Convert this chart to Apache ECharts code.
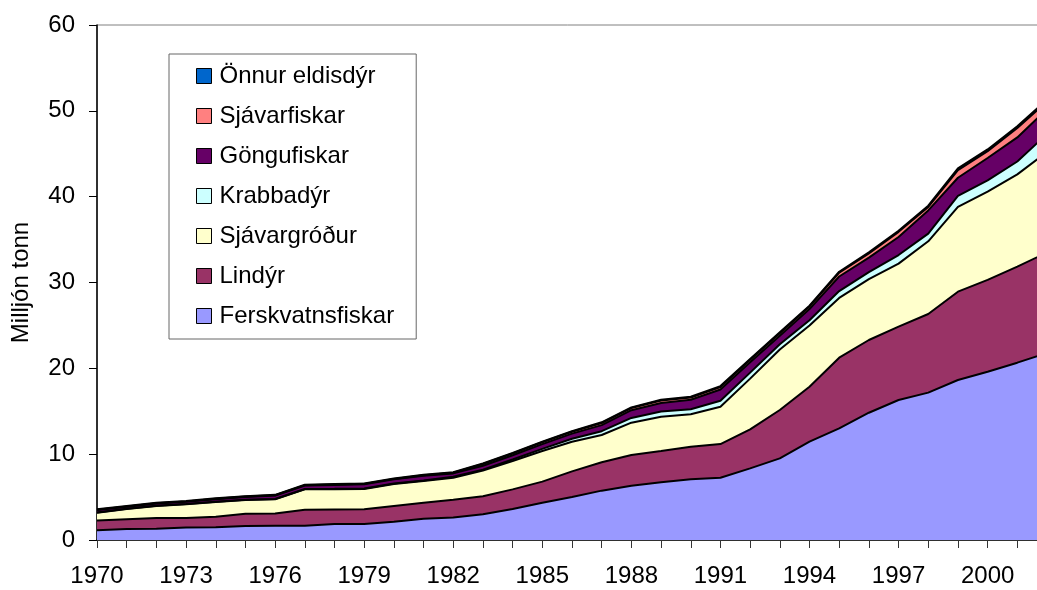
<!DOCTYPE html>
<html>
<head>
<meta charset="utf-8">
<script src="https://cdn.jsdelivr.net/npm/echarts@6/dist/echarts.min.js"></script>
<style>
  html, body { margin: 0; padding: 0; background: #fff; }
  #chart { width: 1037px; height: 590px; }
</style>
</head>
<body>
<div id="chart"></div>
<script>
// Ár 1970-2002
const years = [
  "1970", "1971", "1972", "1973", "1974", "1975", "1976", "1977", "1978", "1979",
  "1980", "1981", "1982", "1983", "1984", "1985", "1986", "1987", "1988", "1989",
  "1990", "1991", "1992", "1993", "1994", "1995", "1996", "1997", "1998", "1999",
  "2000", "2001", "2002"
];

// Milljón tonn, lesið af myndinni
const ferskvatnsfiskar = [
  1.15, 1.28, 1.3, 1.45, 1.48, 1.63, 1.65, 1.67, 1.85, 1.85,
  2.12, 2.47, 2.62, 2.99, 3.6, 4.35, 5.0, 5.75, 6.33, 6.72,
  7.07, 7.26, 8.35, 9.51, 11.46, 13.0, 14.83, 16.31, 17.17, 18.64,
  19.61, 20.66, 21.8
];
const lindyr = [
  1.13, 1.14, 1.25, 1.1, 1.24, 1.44, 1.45, 1.85, 1.7, 1.72,
  1.84, 1.88, 2.08, 2.11, 2.3, 2.45, 3.0, 3.3, 3.57, 3.65,
  3.8, 3.92, 4.54, 5.64, 6.4, 8.24, 8.47, 8.54, 9.16, 10.29,
  10.69, 11.18, 11.7
];
const sjavargrodur = [
  0.9, 1.19, 1.41, 1.61, 1.71, 1.59, 1.64, 2.38, 2.37, 2.37,
  2.56, 2.52, 2.56, 2.98, 3.3, 3.57, 3.44, 3.18, 3.77, 4.0,
  3.77, 4.35, 5.91, 7.05, 7.14, 6.96, 7.1, 7.35, 8.47, 9.87,
  10.3, 10.76, 11.7
];
const krabbadyr = [
  0.02, 0.02, 0.02, 0.03, 0.03, 0.03, 0.03, 0.04, 0.04, 0.05,
  0.05, 0.07, 0.1, 0.12, 0.18, 0.25, 0.35, 0.45, 0.55, 0.6,
  0.6, 0.7, 0.7, 0.6, 0.6, 0.8, 0.8, 1.0, 0.9, 1.3,
  1.3, 1.5, 2.1
];
const gongufiskar = [
  0.3, 0.25, 0.28, 0.28, 0.3, 0.33, 0.4, 0.4, 0.45, 0.5,
  0.5, 0.55, 0.4, 0.45, 0.5, 0.55, 0.6, 0.7, 0.9, 1.0,
  1.1, 1.3, 1.2, 1.0, 1.3, 1.7, 1.7, 2.1, 2.7, 2.1,
  2.6, 2.8, 2.9
];
const sjavarfiskar = [
  0.03, 0.03, 0.03, 0.03, 0.04, 0.04, 0.04, 0.05, 0.05, 0.05,
  0.05, 0.06, 0.08, 0.2, 0.2, 0.22, 0.22, 0.25, 0.25, 0.28,
  0.25, 0.3, 0.3, 0.3, 0.3, 0.45, 0.5, 0.6, 0.4, 0.9,
  0.8, 1.1, 0.9
];
const onnurEldisdyr = [
  0.05, 0.05, 0.05, 0.05, 0.05, 0.05, 0.05, 0.05, 0.05, 0.05,
  0.06, 0.06, 0.06, 0.07, 0.07, 0.07, 0.07, 0.08, 0.08, 0.08,
  0.1, 0.1, 0.1, 0.1, 0.1, 0.1, 0.12, 0.12, 0.15, 0.2,
  0.2, 0.2, 0.2
];

// neðst til efst
const seriesDefs = [
  { name: "Ferskvatnsfiskar", color: "#9999FF", data: ferskvatnsfiskar },
  { name: "Lindýr", color: "#993366", data: lindyr },
  { name: "Sjávargróður", color: "#FFFFCC", data: sjavargrodur },
  { name: "Krabbadýr", color: "#CCFFFF", data: krabbadyr },
  { name: "Göngufiskar", color: "#660066", data: gongufiskar },
  { name: "Sjávarfiskar", color: "#FF8080", data: sjavarfiskar },
  { name: "Önnur eldisdýr", color: "#0066CC", data: onnurEldisdyr },
];

const FONT = "'Liberation Sans', Arial, sans-serif";

const chart = echarts.init(document.getElementById("chart"), null, { renderer: "canvas" });

chart.setOption({
  animation: false,
  backgroundColor: "#fff",
  textStyle: { fontFamily: FONT, color: "#000" },
  // síðasta árið (2002) lendir rétt utan við myndina, eins og í frumritinu
  grid: {
    left: 97, top: 25, width: 950, height: 515,
    outerBoundsMode: "none",
    containLabel: false,
    show: true, borderColor: "#808080", borderWidth: 1,
  },
  legend: {
    orient: "vertical",
    left: 169,
    top: 54,
    data: seriesDefs.map((s) => s.name).reverse(),
    icon: "rect",
    itemWidth: 15,
    itemHeight: 15,
    itemGap: 16,
    padding: [10, 22, 11, 27],
    backgroundColor: "#fff",
    borderColor: "#666",
    borderWidth: 1,
    borderRadius: 0,
    itemStyle: { borderColor: "#000", borderWidth: 1 },
    textStyle: { fontFamily: FONT, fontSize: 24, color: "#000", padding: [0, 0, 0, 3] },
  },
  xAxis: {
    type: "category",
    boundaryGap: false,
    data: years,
    axisLine: { lineStyle: { color: "#000", width: 1.5 } },
    axisTick: { interval: 0, length: 8, lineStyle: { color: "#333" } },
    axisLabel: { interval: 2, fontFamily: FONT, fontSize: 24, color: "#000", margin: 24 },
    splitLine: { show: false },
  },
  yAxis: {
    type: "value",
    min: 0,
    max: 60,
    interval: 10,
    name: "Milljón tonn",
    nameLocation: "middle",
    nameGap: 64,
    nameTextStyle: { fontFamily: FONT, fontSize: 24, color: "#000" },
    axisLine: { show: true, lineStyle: { color: "#000", width: 1.5 } },
    axisTick: { show: true, length: 8, lineStyle: { color: "#000" } },
    axisLabel: { fontFamily: FONT, fontSize: 24, color: "#000", margin: 22 },
    splitLine: { show: false },
  },
  series: seriesDefs.map((s) => ({
    name: s.name,
    type: "line",
    stack: "total",
    data: s.data,
    color: s.color,
    showSymbol: false,
    symbol: "none",
    lineStyle: { color: "#000", width: 2 },
    areaStyle: { color: s.color, opacity: 1 },
    itemStyle: { color: s.color },
    emphasis: { disabled: true },
  })),
});
</script>
</body>
</html>
